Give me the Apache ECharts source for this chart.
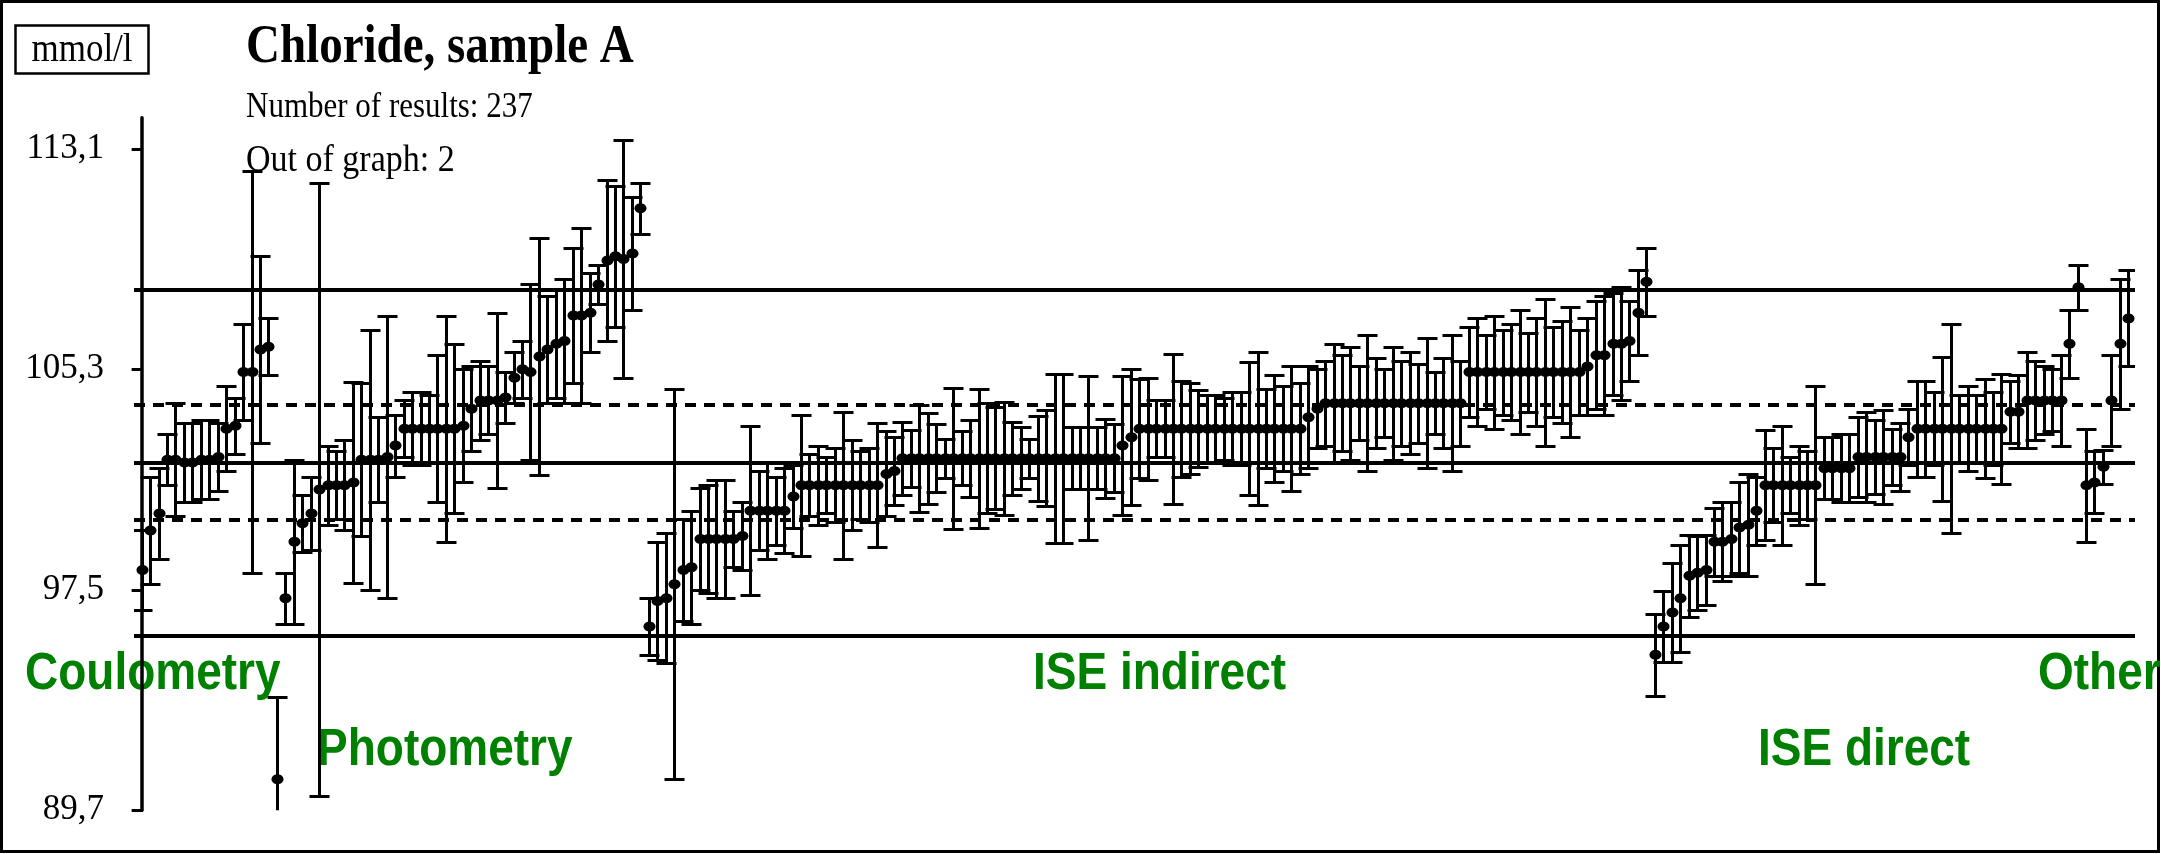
<!DOCTYPE html>
<html><head><meta charset="utf-8">
<script src="https://cdn.jsdelivr.net/npm/echarts@6/dist/echarts.min.js"></script>
<style>html,body{margin:0;padding:0;background:#fff;}#c{width:2161px;height:854px;}</style>
</head><body><div id="c"></div>
<script>
// ---- data ----
const groupNames = ['Coulometry', 'Photometry', 'ISE indirect', 'ISE direct', 'Other'];

const coulometryValues = [98.2, 99.6, 100.2, 102.1, 102.1, 102.0, 102.0, 102.1, 102.1, 102.2, 103.2, 103.3, 105.2, 105.2, 106.0, 106.1];
const coulometryErr    = [1.4, 1.9, 1.6, 0.9, 2.0, 1.4, 1.4, 1.4, 1.4, 1.2, 1.5, 1.0, 1.7, 7.1, 3.3, 1.0];

const photometryValues = [90.8, 97.2, 99.2, 99.85, 100.2, 101.05, 101.2, 101.2, 101.2, 101.3, 102.1, 102.1, 102.1, 102.2, 102.6,
  103.2, 103.2, 103.2, 103.2, 103.2, 103.2, 103.2, 103.3, 103.9, 104.2, 104.2, 104.2, 104.3, 105.0, 105.3, 105.2, 105.75,
  106.0, 106.2, 106.3, 107.2, 107.2, 107.3, 108.3, 109.15, 109.3, 109.2, 109.4, 111.0];
const photometryErr = [2.9, 0.9, 2.9, 1.0, 1.3, 10.85, 1.4, 1.2, 1.6, 3.55, 2.7, 4.6, 1.5, 5.0, 1.1,
  1.0, 1.3, 1.3, 1.2, 2.6, 4.0, 3.0, 2.0, 1.5, 1.4, 1.2, 3.1, 0.9, 0.9, 1.0, 3.1, 4.2,
  1.9, 1.9, 2.2, 2.4, 3.1, 1.4, 0.7, 2.85, 2.5, 4.2, 2.0, 0.9];

const iseIndirectValues = [96.2, 97.1, 97.2, 97.7, 98.2, 98.3,
  99.3, 99.3, 99.3, 99.3, 99.3, 99.4,
  100.3, 100.3, 100.3, 100.3, 100.3, 100.8,
  101.2, 101.2, 101.2, 101.2, 101.2, 101.2, 101.2, 101.2,
  101.2, 101.2, 101.6, 101.7,
  102.15, 102.15, 102.15, 102.15, 102.15, 102.15, 102.15, 102.15, 102.15, 102.15, 102.15, 102.15, 102.15,
  102.15, 102.15, 102.15, 102.15, 102.15, 102.15, 102.15, 102.15, 102.15, 102.15, 102.15, 102.15, 102.15,
  102.6, 102.9,
  103.2, 103.2, 103.2, 103.2, 103.2, 103.2, 103.2, 103.2, 103.2, 103.2,
  103.2, 103.2, 103.2, 103.2, 103.2, 103.2, 103.2, 103.2, 103.2, 103.2,
  103.6, 103.9,
  104.1, 104.1, 104.1, 104.1, 104.1, 104.1, 104.1, 104.1, 104.1, 104.1, 104.1, 104.1, 104.1, 104.1, 104.1, 104.1, 104.1,
  105.2, 105.2, 105.2, 105.2, 105.2, 105.2, 105.2, 105.2, 105.2, 105.2, 105.2, 105.2, 105.2, 105.2,
  105.4, 105.8, 105.8, 106.2, 106.2, 106.3, 107.3, 108.4];
const iseIndirectErr = [1.0, 2.1, 2.3, 6.9, 1.8, 2.0,
  1.8, 1.9, 2.1, 2.1, 1.0, 1.2,
  3.0, 1.4, 1.7, 1.2, 1.5, 1.1,
  2.5, 1.1, 1.4, 1.0, 1.3, 2.6, 1.6, 1.2,
  1.3, 2.2, 1.5, 1.2,
  1.3, 1.0, 1.9, 1.6, 1.2, 0.7, 2.5, 0.95, 1.35, 2.45, 1.95, 1.8, 2.0,
  1.3, 1.1, 0.7, 1.5, 1.7, 3.0, 3.0, 1.1, 1.1, 2.9, 1.1, 1.4, 1.2,
  2.45, 2.4,
  1.75, 1.8, 1.0, 1.0, 2.65, 1.7, 1.6, 1.35, 1.2, 1.2,
  1.1, 1.3, 1.3, 2.35, 2.7, 1.4, 1.9, 1.5, 2.2, 1.6,
  1.8, 1.4,
  1.5, 2.1, 1.7, 2.0, 1.3, 2.4, 1.6, 1.2, 2.0, 1.5, 1.8, 1.4, 2.3, 1.1, 1.6, 2.4, 1.5,
  1.6, 1.9, 1.3, 2.0, 1.5, 1.7, 2.2, 1.4, 1.9, 2.6, 1.6, 1.8, 2.3, 1.5,
  1.7, 1.9, 2.1, 1.8, 2.0, 1.4, 1.5, 1.2];

const iseDirectValues = [95.2, 96.2, 96.7, 97.2, 98.0, 98.1, 98.2, 99.2, 99.2, 99.3, 99.7, 99.8, 100.3,
  101.2, 101.2, 101.2, 101.2, 101.2, 101.2, 101.2,
  101.8, 101.8, 101.8, 101.8,
  102.2, 102.2, 102.2, 102.2, 102.2, 102.2, 102.9,
  103.2, 103.2, 103.2, 103.2, 103.2, 103.2, 103.2, 103.2, 103.2, 103.2, 103.2,
  103.8, 103.8, 104.2, 104.2, 104.2, 104.2, 104.2, 106.2, 108.2];
const iseDirectErr = [1.45, 1.25, 1.75, 1.9, 1.45, 1.3, 1.25, 1.2, 1.4, 1.3, 1.6, 1.8, 1.2,
  1.95, 1.3, 2.1, 1.0, 1.4, 1.2, 3.5,
  1.1, 1.1, 1.2, 1.2,
  1.4, 1.6, 1.3, 1.65, 1.0, 1.2, 1.0,
  1.7, 1.7, 1.3, 2.55, 3.7, 1.2, 1.5, 1.2, 1.75, 1.3, 1.95,
  1.1, 1.3, 1.7, 1.4, 1.2, 1.1, 1.6, 1.2, 0.8];

const otherValues = [101.2, 101.3, 101.85, 104.2, 106.2, 107.1];
const otherErr    = [2.0, 1.1, 0.6, 1.6, 2.3, 1.7];

const yTickValues = [89.7, 97.5, 105.3, 113.1];
const targetValue = 102.0;
const innerLimits = [99.96, 104.04];   // dashed
const outerLimits = [95.88, 108.12];   // solid
const titleText = 'Chloride, sample A';
const unitText = 'mmol/l';
const infoLines = ['Number of results: 237', 'Out of graph: 2'];

// ---- build ----
const groups = [
  [coulometryValues, coulometryErr],
  [photometryValues, photometryErr],
  [iseIndirectValues, iseIndirectErr],
  [iseDirectValues, iseDirectErr],
  [otherValues, otherErr]
];
const points = [];
let idx = 0;
groups.forEach(([vals, errs]) => {
  vals.forEach((v, k) => { points.push([idx, v, errs[k]]); idx++; });
});
const N = points.length;
// reference lines: [value, dashed?]
const refLines = [
  [targetValue, 0], [innerLimits[0], 1], [innerLimits[1], 1], [outerLimits[0], 0], [outerLimits[1], 0]
];

const snap = p => Math.round(p) + 0.5;

function renderPoint(params, api) {
  const i = api.value(0), v = api.value(1), e = api.value(2);
  const c = api.coord([i, v]);
  const t = api.coord([i, v + e]);
  const b = api.coord([i, v - e]);
  const x = snap(c[0]);
  const yt = snap(t[1]), yb = snap(b[1]);
  const hw = 10;
  const st = { stroke: '#000', lineWidth: 3 };
  return {
    type: 'group',
    children: [
      { type: 'line', shape: { x1: x, y1: yt, x2: x, y2: yb }, style: st },
      { type: 'line', shape: { x1: x - hw, y1: yt, x2: x + hw, y2: yt }, style: st },
      { type: 'line', shape: { x1: x - hw, y1: yb, x2: x + hw, y2: yb }, style: st },
      { type: 'ellipse', shape: { cx: x, cy: c[1], rx: 6, ry: 5 }, style: { fill: '#000' } }
    ]
  };
}

function renderRefLine(params, api) {
  const v = api.value(0), dashed = api.value(1);
  const cs = params.coordSys;
  const y = Math.round(api.coord([0, v])[1]);
  return {
    type: 'line',
    shape: { x1: cs.x, y1: y, x2: cs.x + cs.width, y2: y },
    style: { stroke: '#000', lineWidth: 4, lineDash: dashed ? [11, 8] : null }
  };
}

const chart = echarts.init(document.getElementById('c'), null, { renderer: 'canvas' });
const fmt = v => (Math.round(v * 10) / 10).toFixed(1).replace('.', ',');
const green = '#008000';
const labelFont = 'bold 46px "Liberation Sans", Arial, sans-serif';

chart.setOption({
  animation: false,
  backgroundColor: '#fff',
  grid: { left: 134, top: 117.7, width: 2001, height: 692.6, containLabel: false, outerBoundsMode: 'none' },
  xAxis: { type: 'value', min: -0.9, max: N - 0.2, show: false },
  yAxis: [
    {
      type: 'value', min: 89.7, max: 114.2, position: 'left',
      axisLine: { show: true, lineStyle: { color: '#000', width: 3.5 } },
      axisTick: { show: true, length: 10, lineStyle: { color: '#000', width: 3 }, customValues: yTickValues },
      axisLabel: { customValues: yTickValues, formatter: fmt, fontSize: 35, fontFamily: '"Liberation Serif", serif', color: '#000', margin: 30 },
      splitLine: { show: false }
    },
    {
      type: 'value', min: 89.7, max: 114.2, position: 'left', offset: 0,
      axisLine: { show: false },
      axisTick: { show: true, inside: true, length: 9, lineStyle: { color: '#000', width: 3 }, customValues: yTickValues },
      axisLabel: { show: false },
      splitLine: { show: false }
    }
  ],
  series: [
    {
      type: 'custom', renderItem: renderRefLine, data: refLines, clip: false,
      encode: { y: 0 }, silent: true, z: 1
    },
    {
      type: 'custom', renderItem: renderPoint, data: points, clip: true,
      encode: { x: 0, y: 1 }, z: 2
    }
  ],
  graphic: [
    { type: 'rect', shape: { x: 1.5, y: 1.5, width: 2157, height: 850 }, style: { fill: null, stroke: '#000', lineWidth: 3 }, silent: true },
    { type: 'rect', shape: { x: 15.5, y: 25.5, width: 133, height: 48 }, style: { fill: null, stroke: '#000', lineWidth: 2.5 }, silent: true },
    { type: 'text', x: 82, y: 50, scaleY: 1.15, style: { text: unitText, font: '35px "Liberation Serif", serif', fill: '#000', align: 'center', verticalAlign: 'middle' } },
    { type: 'text', x: 246, y: 48, scaleY: 1.15, style: { text: titleText, font: 'bold 47px "Liberation Serif", serif', fill: '#000', align: 'left', verticalAlign: 'middle' } },
    { type: 'text', x: 246, y: 108, scaleY: 1.15, style: { text: infoLines[0], font: '31px "Liberation Serif", serif', fill: '#000', align: 'left', verticalAlign: 'middle' } },
    { type: 'text', x: 246, y: 161, scaleY: 1.12, style: { text: infoLines[1], font: '34px "Liberation Serif", serif', fill: '#000', align: 'left', verticalAlign: 'middle' } },
    { type: 'text', x: 25, y: 675, scaleY: 1.12, style: { text: groupNames[0], font: labelFont, fill: green, align: 'left', verticalAlign: 'middle' } },
    { type: 'text', x: 317, y: 751, scaleY: 1.12, style: { text: groupNames[1], font: labelFont, fill: green, align: 'left', verticalAlign: 'middle' } },
    { type: 'text', x: 1033, y: 675, scaleY: 1.12, style: { text: groupNames[2], font: labelFont, fill: green, align: 'left', verticalAlign: 'middle' } },
    { type: 'text', x: 1758, y: 751, scaleY: 1.12, style: { text: groupNames[3], font: labelFont, fill: green, align: 'left', verticalAlign: 'middle' } },
    { type: 'text', x: 2038, y: 675, scaleY: 1.12, style: { text: groupNames[4], font: labelFont, fill: green, align: 'left', verticalAlign: 'middle' } }
  ]
});
</script>
</body></html>
